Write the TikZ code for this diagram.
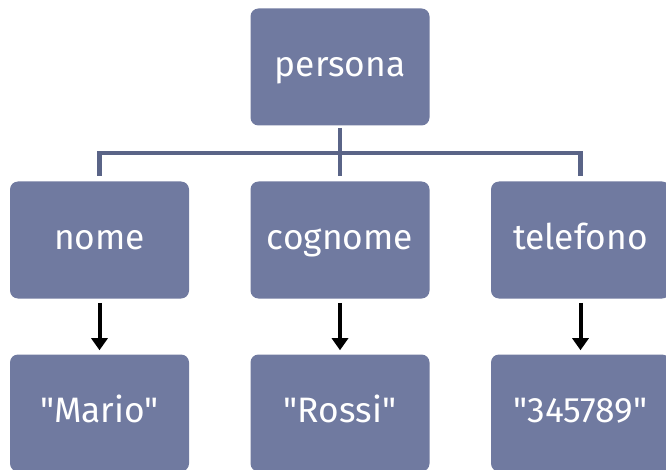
\documentclass[tikz,border=0pt]{standalone}
\usepackage{fontspec}
\setmainfont[Ligatures=TeXOff]{Fira Sans}
\usetikzlibrary{arrows.meta}
\definecolor{boxfill}{RGB}{112,122,160}
\definecolor{linkcol}{RGB}{90,100,135}
\begin{document}
\begin{tikzpicture}[x=0.75pt,y=-0.75pt,
  entity/.style={draw=none,fill=boxfill,rounded corners=6pt,minimum width=134.25pt,minimum height=87.75pt,
    inner sep=0pt,text=white,text height=14pt,text depth=0pt,font=\fontsize{26.5}{30}\selectfont},
  link/.style={draw=linkcol,line width=3.6pt},
  valarrow/.style={draw=black,line width=3pt,-{Triangle[width=12pt,length=9pt]}}]
\useasboundingbox (0,0) rectangle (666,470);
\node[entity] (persona) at (340,67) {persona};
\node[entity] (nome) at (99.5,240) {nome};
\node[entity] (cognome) at (340,240) {cognome};
\node[entity] (telefono) at (580.5,240) {telefono};
\node[entity] (mario) at (99.5,413) {"Mario"};
\node[entity] (rossi) at (340,413) {"Rossi"};
\node[entity] (num) at (580.5,413) {"345789"};
\coordinate (bus) at (340,153);
\draw[link] ([yshift=-1.5pt]persona.south) -- ([yshift=4pt]cognome.north);
\draw[link] ([yshift=4pt]nome.north) |- (bus) -| ([yshift=4pt]telefono.north);
\draw[valarrow] ([yshift=-3pt]nome.south) -- ([yshift=3pt]mario.north);
\draw[valarrow] ([yshift=-3pt]cognome.south) -- ([yshift=3pt]rossi.north);
\draw[valarrow] ([yshift=-3pt]telefono.south) -- ([yshift=3pt]num.north);
\end{tikzpicture}
\end{document}
